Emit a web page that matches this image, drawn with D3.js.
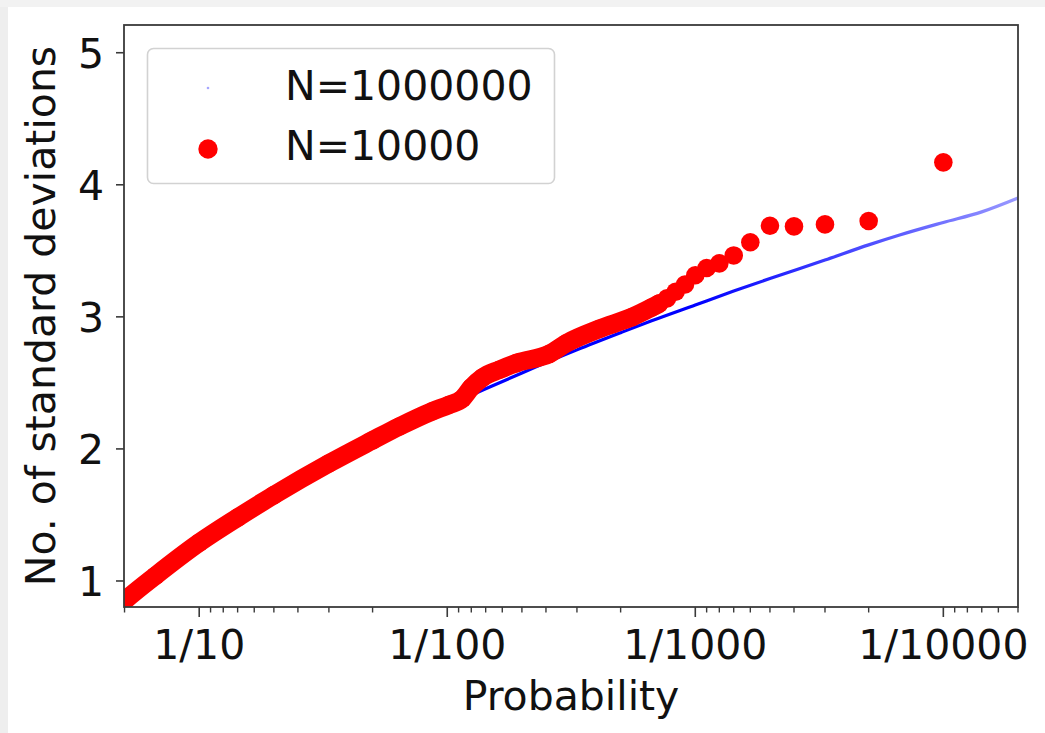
<!DOCTYPE html>
<html>
<head>
<meta charset="utf-8">
<script src="https://cdn.jsdelivr.net/npm/d3@7/dist/d3.min.js"></script>
<style>
  html, body { margin: 0; padding: 0; background: #ffffff; }
  svg { display: block; font-family: "DejaVu Sans", sans-serif; }
</style>
</head>
<body>
<svg id="chart" width="1045" height="733"></svg>
<script>
// Tail probability vs. number of standard deviations

// N=1000000 sample: quantile curve (probability, sigma)
const bigProb  = [0.25, 0.2, 0.15, 0.1, 0.07, 0.05, 0.03, 0.02, 0.015, 0.01, 0.007, 0.005,
                  0.003, 0.002, 0.0015, 0.001, 0.0007, 0.0005, 0.0003, 0.0002, 0.00015,
                  0.0001, 0.00007, 0.00005];
const bigSigma = [0.67, 0.84, 1.04, 1.28, 1.48, 1.645, 1.88, 2.055, 2.17, 2.325, 2.455, 2.575,
                  2.75, 2.88, 2.97, 3.09, 3.195, 3.29, 3.43, 3.545, 3.62,
                  3.715, 3.795, 3.90];

// N=10000 sample: dense part of the sorted sample (overlapping markers)
const smallBandProb  = [0.25, 0.2, 0.15, 0.1, 0.07, 0.05, 0.03, 0.02, 0.0156, 0.0115, 0.0098,
                        0.0087, 0.008, 0.00721, 0.00616, 0.00526, 0.00387, 0.00331, 0.00243,
                        0.00179, 0.0015, 0.0014];
const smallBandSigma = [0.68, 0.85, 1.04, 1.29, 1.48, 1.65, 1.89, 2.065, 2.17, 2.285, 2.335,
                        2.38, 2.465, 2.54, 2.6, 2.65, 2.72, 2.8, 2.91,
                        3.0, 3.07, 3.1];
// N=10000 sample: the largest values, one marker each (k/10000)
const smallTailProb  = [0.0013, 0.0012, 0.0011, 0.001, 0.0009, 0.0008, 0.0007, 0.0006,
                        0.0005, 0.0004, 0.0003, 0.0002, 0.0001];
const smallTailSigma = [3.14, 3.19, 3.245, 3.315, 3.37, 3.405, 3.465, 3.565,
                        3.69, 3.685, 3.70, 3.726, 4.17];

const xTickValues = [0.1, 0.01, 0.001, 0.0001];
const xTickLabels = ["1/10", "1/100", "1/1000", "1/10000"];
const yTickValues = [1, 2, 3, 4, 5];
const seriesLabels = ["N=1000000", "N=10000"];

const svg = d3.select("#chart");
const W = 1045, H = 733;
const plot = { left: 124, right: 1018, top: 25, bottom: 607 };
const FONT = 41;

// page frame
svg.append("rect").attr("x", 0).attr("y", 0).attr("width", W).attr("height", H).attr("fill", "#ffffff");
svg.append("rect").attr("x", 0).attr("y", 0).attr("width", 8).attr("height", H).attr("fill", "#eeeeee");
svg.append("rect").attr("x", 0).attr("y", 0).attr("width", W).attr("height", 7).attr("fill", "#f2f2f2");

const x = d3.scaleLog().domain([0.201, 0.00005]).range([plot.left, plot.right]);
const y = d3.scaleLinear().domain([0.803, 5.21]).range([plot.bottom, plot.top]);

const defs = svg.append("defs");
defs.append("clipPath").attr("id", "plotClip")
  .append("rect")
  .attr("x", plot.left).attr("y", plot.top)
  .attr("width", plot.right - plot.left).attr("height", plot.bottom - plot.top);

// blue curve fades as the points thin out in the tail
const grad = defs.append("linearGradient").attr("id", "blueFade")
  .attr("gradientUnits", "userSpaceOnUse")
  .attr("x1", plot.left).attr("x2", plot.right).attr("y1", 0).attr("y2", 0);
grad.append("stop").attr("offset", 0).attr("stop-color", "#0000ff").attr("stop-opacity", 1);
grad.append("stop").attr("offset", 0.64).attr("stop-color", "#0000ff").attr("stop-opacity", 1);
grad.append("stop").attr("offset", 0.86).attr("stop-color", "#0000ff").attr("stop-opacity", 0.65);
grad.append("stop").attr("offset", 1).attr("stop-color", "#0000ff").attr("stop-opacity", 0.4);

const g = svg.append("g").attr("clip-path", "url(#plotClip)");

const line = d3.line().x(d => x(d[0])).y(d => y(d[1])).curve(d3.curveMonotoneX);

// N=1000000
const bigData = bigProb.map((p, i) => [p, bigSigma[i]]);
g.append("path")
  .datum(bigData)
  .attr("d", line)
  .attr("fill", "none")
  .attr("stroke", "url(#blueFade)")
  .attr("stroke-width", 3.2)
  .attr("stroke-linecap", "round");

// N=10000
const R = 9.3;
const bandData = smallBandProb.map((p, i) => [p, smallBandSigma[i]]);
const tailData = smallTailProb.map((p, i) => [p, smallTailSigma[i]]);

g.append("path")
  .datum(bandData)
  .attr("d", line)
  .attr("fill", "none")
  .attr("stroke", "#ff0000")
  .attr("stroke-width", 2 * R)
  .attr("stroke-linecap", "round")
  .attr("stroke-linejoin", "round");

g.selectAll("circle.small")
  .data(bandData.concat(tailData))
  .enter().append("circle")
  .attr("class", "small")
  .attr("cx", d => x(d[0]))
  .attr("cy", d => y(d[1]))
  .attr("r", R)
  .attr("fill", "#ff0000");

// axes frame
const frameColor = "#3a3a3a";
svg.append("rect")
  .attr("x", plot.left).attr("y", plot.top)
  .attr("width", plot.right - plot.left).attr("height", plot.bottom - plot.top)
  .attr("fill", "none").attr("stroke", frameColor).attr("stroke-width", 1.8);

// x ticks (major + minor)
const minor = [];
for (let e = 1; e <= 5; e++) {
  for (let k = 2; k <= 9; k++) {
    const v = k * Math.pow(10, -e);
    if (v <= 0.201 && v >= 0.00005 * 0.999) minor.push(v);
  }
}
svg.selectAll("line.xminor").data(minor).enter().append("line")
  .attr("x1", d => x(d)).attr("x2", d => x(d))
  .attr("y1", plot.bottom).attr("y2", plot.bottom + 5.5)
  .attr("stroke", frameColor).attr("stroke-width", 1.4);
svg.selectAll("line.xmajor").data(xTickValues).enter().append("line")
  .attr("x1", d => x(d)).attr("x2", d => x(d))
  .attr("y1", plot.bottom).attr("y2", plot.bottom + 10)
  .attr("stroke", frameColor).attr("stroke-width", 1.6);
svg.selectAll("text.xtick").data(xTickValues).enter().append("text")
  .attr("x", d => x(d)).attr("y", 659)
  .attr("text-anchor", "middle")
  .attr("font-size", FONT).attr("fill", "#111")
  .text((d, i) => xTickLabels[i]);

// y ticks
svg.selectAll("line.ytick").data(yTickValues).enter().append("line")
  .attr("x1", plot.left - 8).attr("x2", plot.left)
  .attr("y1", d => y(d)).attr("y2", d => y(d))
  .attr("stroke", frameColor).attr("stroke-width", 1.6);
svg.selectAll("text.ytick").data(yTickValues).enter().append("text")
  .attr("x", 104).attr("y", d => y(d) + 15)
  .attr("text-anchor", "end")
  .attr("font-size", FONT).attr("fill", "#111")
  .text(d => d);

// axis titles
svg.append("text")
  .attr("x", (plot.left + plot.right) / 2).attr("y", 710)
  .attr("text-anchor", "middle").attr("font-size", FONT).attr("fill", "#111")
  .text("Probability");
svg.append("text")
  .attr("transform", `translate(55, ${(plot.top + plot.bottom) / 2}) rotate(-90)`)
  .attr("text-anchor", "middle").attr("font-size", FONT).attr("fill", "#111")
  .text("No. of standard deviations");

// legend
const lg = svg.append("g");
lg.append("rect")
  .attr("x", 147.5).attr("y", 48.5).attr("width", 407).attr("height", 135)
  .attr("rx", 6).attr("ry", 6)
  .attr("fill", "#ffffff").attr("fill-opacity", 0.8)
  .attr("stroke", "#d2d2d2").attr("stroke-width", 1.6);
lg.append("circle").attr("cx", 208).attr("cy", 88).attr("r", 1.3)
  .attr("fill", "#0000ff").attr("fill-opacity", 0.35);
lg.append("circle").attr("cx", 208).attr("cy", 149).attr("r", R + 0.4)
  .attr("fill", "#ff0000");
lg.selectAll("text.leg").data(seriesLabels).enter().append("text")
  .attr("x", 285).attr("y", (d, i) => 100 + i * 60)
  .attr("font-size", FONT).attr("fill", "#111")
  .text(d => d);
</script>
</body>
</html>
